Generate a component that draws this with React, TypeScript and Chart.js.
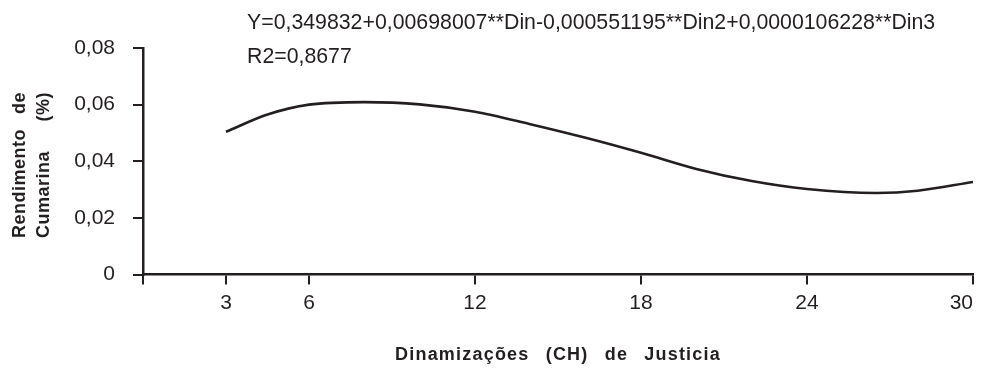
import React, { useEffect, useRef } from "react";
import { Chart, registerables } from "chart.js";

Chart.register(...registerables);

// Data
const dinamizacoes = [3, 4.5, 6, 8, 10, 12, 14, 16, 18, 20, 22, 24, 26.5, 28, 30];
const rendimento = [0.0504, 0.0565, 0.06, 0.0609, 0.0601, 0.0575, 0.0531, 0.0483, 0.043, 0.0373, 0.033, 0.0302, 0.0288, 0.0296, 0.0327];
const xTickValues = [0, 3, 6, 12, 18, 24, 30];
const yTickValues = [0, 0.02, 0.04, 0.06, 0.08];
const equationText = "Y=0,349832+0,00698007**Din-0,000551195**Din2+0,0000106228**Din3";
const r2Text = "R2=0,8677";
const xTitle = "Dinamizações (CH) de Justicia";
const yTitleLine1 = ["Rendimento", "de"];
const yTitleLine2 = ["Cumarina", "(%)"];

const INK = "#231f20";
const FONT = "'Liberation Sans', Arial, Helvetica, sans-serif";

const textPlugin = {
  id: "textPlugin",
  afterDraw(chart: any) {
    const ctx = chart.ctx as CanvasRenderingContext2D;
    const area = chart.chartArea;
    ctx.save();
    ctx.fillStyle = INK;
    // equation & R2
    ctx.font = `21.3px ${FONT}`;
    ctx.textAlign = "left";
    ctx.textBaseline = "alphabetic";
    ctx.fillText(equationText, 247, 29);
    ctx.fillText(r2Text, 247, 63);

    // x title
    ctx.font = `bold 18px ${FONT}`;
    (ctx as any).letterSpacing = "1.2px";
    (ctx as any).wordSpacing = "10px";
    ctx.textAlign = "center";
    ctx.textBaseline = "middle";
    ctx.fillText(xTitle, (area.left + area.right) / 2, 355);
    (ctx as any).wordSpacing = "0px";

    // y title (two justified lines, rotated)
    ctx.font = `bold 18px ${FONT}`;
    (ctx as any).letterSpacing = "0.5px";
    ctx.translate(0, 165);
    ctx.rotate(-Math.PI / 2);
    const half = 73;
    const lines: [string[], number][] = [
      [yTitleLine1, 20],
      [yTitleLine2, 44],
    ];
    for (const [words, yy] of lines) {
      ctx.textAlign = "left";
      ctx.fillText(words[0], -half, yy);
      ctx.textAlign = "right";
      ctx.fillText(words[1], half, yy);
    }
    ctx.restore();
  },
};

export default function App() {
  const canvasRef = useRef<HTMLCanvasElement | null>(null);

  useEffect(() => {
    document.body.style.margin = "0";
    const canvas = canvasRef.current;
    if (!canvas) return;
    const chart = new Chart(canvas, {
      type: "line",
      data: {
        datasets: [
          {
            data: dinamizacoes.map((x, i) => ({ x, y: rendimento[i] })),
            borderColor: INK,
            borderWidth: 2.6,
            pointRadius: 0,
            cubicInterpolationMode: "monotone",
            fill: false,
          },
        ],
      },
      options: {
        animation: false,
        responsive: false,
        maintainAspectRatio: false,
        layout: { padding: { top: 48, right: 9, left: 0, bottom: 0 } },
        plugins: {
          legend: { display: false },
          tooltip: { enabled: false },
          title: { display: false },
        },
        scales: {
          x: {
            type: "linear",
            min: 0,
            max: 30,
            afterBuildTicks: (scale: any) => {
              scale.ticks = xTickValues.map((v) => ({ value: v }));
            },
            afterFit: (scale: any) => {
              scale.height = 93.5;
              scale.paddingLeft = 0;
              scale.paddingRight = 0;
            },
            border: { display: true, color: INK, width: 2.5 },
            grid: {
              display: true,
              drawOnChartArea: false,
              drawTicks: true,
              tickLength: 10,
              color: INK,
              lineWidth: 2,
            },
            ticks: {
              color: INK,
              font: { family: FONT, size: 21 },
              padding: 6,
              maxRotation: 0,
              autoSkip: false,
              align: "inner",
              callback: (v: any) => (Number(v) === 0 ? "" : String(v)),
            },
          },
          y: {
            type: "linear",
            min: 0,
            max: 0.08,
            afterBuildTicks: (scale: any) => {
              scale.ticks = yTickValues.map((v) => ({ value: v }));
            },
            afterFit: (scale: any) => {
              scale.width = 143;
              scale.paddingTop = 0;
              scale.paddingBottom = 0;
            },
            border: { display: true, color: INK, width: 2.5 },
            grid: {
              display: true,
              drawOnChartArea: false,
              drawTicks: true,
              tickLength: 10,
              color: INK,
              lineWidth: 2,
            },
            ticks: {
              color: INK,
              font: { family: FONT, size: 21 },
              padding: 18,
              autoSkip: false,
              callback: (v: any) =>
                Number(v) === 0 ? "0" : Number(v).toFixed(2).replace(".", ","),
            },
          },
        },
      },
      plugins: [textPlugin],
    });
    return () => chart.destroy();
  }, []);

  return (
    <div style={{ position: "absolute", left: 0, top: 0, width: 982, height: 368, background: "#fff" }}>
      <canvas ref={canvasRef} width={982} height={368} style={{ display: "block" }} />
    </div>
  );
}
